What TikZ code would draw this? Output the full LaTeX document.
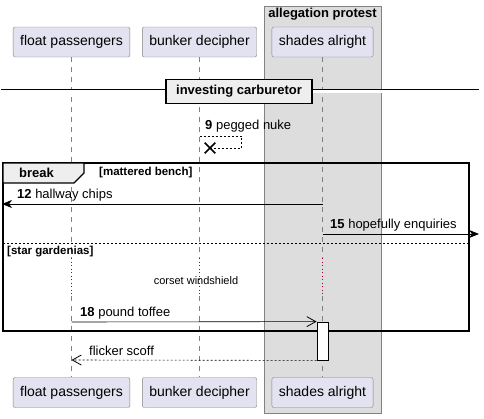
\documentclass[tikz,border=0pt]{standalone}
\usepackage{fontspec}
\setmainfont{Liberation Sans}
\usetikzlibrary{arrows.meta,positioning,shapes.misc}
\definecolor{partfill}{RGB}{226,226,240}
\definecolor{partline}{RGB}{130,130,130}
\definecolor{groupfill}{RGB}{221,221,221}
\definecolor{tabfill}{RGB}{238,238,238}
\definecolor{delayred}{RGB}{168,0,54}
\tikzset{
  participant/.style={draw=partline, fill=partfill, rounded corners=2pt, minimum height=30pt, inner xsep=7pt, font=\fontsize{14}{16}\selectfont},
  lifeline/.style={draw=gray, line width=0.6pt, dash pattern=on 5pt off 5pt},
  delayline/.style={draw=delayred, line width=0.8pt, dash pattern=on 1pt off 2.5pt},
  msgtext/.style={anchor=west, inner sep=0pt, font=\fontsize{13}{15}\selectfont},
  guardtext/.style={anchor=west, inner sep=0pt, font=\fontsize{11.5}{13}\selectfont\bfseries},
  msg/.style={line width=0.8pt, -{Stealth[length=10pt,width=8pt,inset=3pt]}},
  openmsg/.style={line width=0.6pt, -{Straight Barb[length=9pt,width=10pt,line width=0.8pt]}},
  replymsg/.style={openmsg, dash pattern=on 2pt off 2pt}
}
\begin{document}
\begin{tikzpicture}[x=1pt, y=-1pt]
    \useasboundingbox (0,0) rectangle (484,418);
    % box around the third participant
    \draw[fill=groupfill, draw=partline] (264,6) rectangle (381,413);
    \node[font=\fontsize{13}{15}\selectfont\bfseries] (grouptitle) at (322.5,14.5) {allegation protest};
    % participants, top and bottom
    \node[participant] (fp) at (71.5,42) {float passengers};
    \node[participant] (bd) at (199.5,42) {bunker decipher};
    \node[participant] (sa) at (322.5,42) {shades alright};
    \node[participant] (fpb) at (71.5,392.5) {float passengers};
    \node[participant] (bdb) at (199.5,392.5) {bunker decipher};
    \node[participant] (sab) at (322.5,392.5) {shades alright};
    % lifelines with the delay part
    \coordinate (fpd1) at (71.5,258); \coordinate (fpd2) at (71.5,296);
    \coordinate (bdd1) at (199.5,258); \coordinate (bdd2) at (199.5,296);
    \coordinate (sad1) at (322.5,258); \coordinate (sad2) at (322.5,296);
    \draw[lifeline] (fp.south) -- (fpd1);
    \draw[delayline] (fpd1) -- (fpd2);
    \draw[lifeline] (fpd2) -- (fpb.north);
    \draw[lifeline] (bd.south) -- (bdd1);
    \draw[delayline] (bdd1) -- (bdd2);
    \draw[lifeline] (bdd2) -- (bdb.north);
    \draw[lifeline] (sa.south) -- (sad1);
    \draw[delayline] (sad1) -- (sad2);
    \draw[lifeline] (sad2) -- (sab.north);
    % divider
    \coordinate (divl) at (1,91); \coordinate (divr) at (479,91);
    \draw[double, double distance=3pt, line width=0.8pt] (divl) -- (divr);
    \node[draw, line width=1.6pt, fill=tabfill, minimum width=146pt, minimum height=24pt, font=\fontsize{13}{15}\selectfont\bfseries] (divider) at (239,91.5) {investing carburetor};
    % self message ending in destroy
    \coordinate (m9a) at (199.5,136);
    \coordinate (m9x) at (210,148);
    \draw[line width=0.6pt, dash pattern=on 2pt off 2pt] (m9a) -- ++(42,0) |- (m9x);
    \node[line width=1.6pt, draw, cross out, minimum size=9pt, inner sep=0pt] (destroy) at (m9x) {};
    \node[msgtext] (m9) at (205,126.5) {\textbf{9} pegged nuke};
    % break frame
    \draw[line width=1.6pt] (3,163) rectangle (469,331);
    \draw[line width=1.2pt, fill=tabfill] (3,163) -- (84,163) -- (84,173) -- (74,183) -- (3,183) -- cycle;
    \node[font=\fontsize{13}{15}\selectfont\bfseries] (breaklabel) at (36.5,173) {break};
    \node[guardtext] (guard1) at (99,173) {[mattered bench]};
    % messages inside the frame
    \coordinate (m12a) at (322.5,204); \coordinate (m12b) at (2,204);
    \draw[msg] (m12a) -- (m12b);
    \node[msgtext] (m12) at (17,195.5) {\textbf{12} hallway chips};
    \coordinate (m15a) at (322.5,234); \coordinate (m15b) at (479,234);
    \draw[msg] (m15a) -- (m15b);
    \node[msgtext] (m15) at (330,225.5) {\textbf{15} hopefully enquiries};
    \coordinate (elsel) at (3,243); \coordinate (elser) at (469,243);
    \draw[line width=0.6pt, dash pattern=on 2pt off 2pt] (elsel) -- (elser);
    \node[guardtext] (guard2) at (7,251.5) {[star gardenias]};
    \node[font=\fontsize{11}{13}\selectfont] (delay) at (196,280.5) {corset windshield};
    % activation and the last two messages
    \node[draw, line width=0.8pt, fill=white, minimum width=11pt, minimum height=38pt, inner sep=0pt] (act) at (322.5,341) {};
    \coordinate (m18a) at (71.5,322);
    \draw[openmsg] (m18a) -- (act.north west);
    \node[msgtext] (m18) at (80,313.5) {\textbf{18} pound toffee};
    \coordinate (m19b) at (71.5,360);
    \draw[replymsg] (act.south west) -- (m19b);
    \node[msgtext] (m19) at (89,350.5) {flicker scoff};
\end{tikzpicture}
\end{document}
